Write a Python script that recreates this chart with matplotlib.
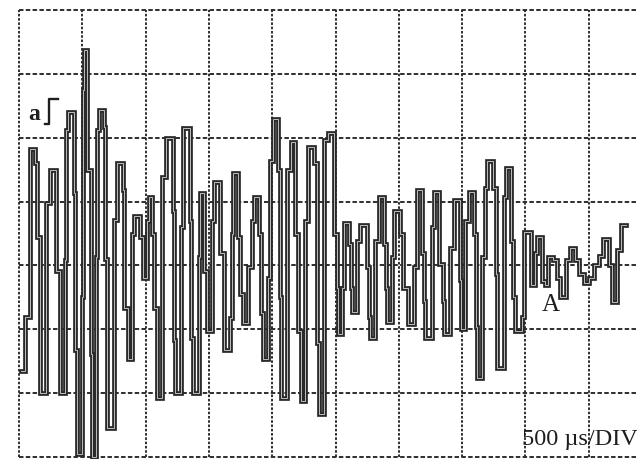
import numpy as np
import matplotlib.pyplot as plt
from matplotlib.lines import Line2D

# step start times (us) and held levels (divisions, 0 = centre line)
t_us = [16, 51, 83, 130, 146, 166, 217, 245, 292, 324,
        363, 375, 387, 435, 446, 458, 494, 506, 514, 541,
        565, 577, 612, 620, 632, 675, 683, 699, 747, 774,
        818, 833, 861, 893, 912, 952, 976, 1011, 1023, 1051,
        1070, 1090, 1130, 1161, 1213, 1225, 1236, 1276, 1296, 1347,
        1359, 1375, 1418, 1426, 1465, 1485, 1525, 1544,
        1588, 1616, 1663, 1679, 1687, 1726, 1746, 1766, 1809, 1837,
        1857, 1896, 1908, 1924, 1967, 1983, 2003, 2046, 2062, 2070,
        2117, 2145, 2184, 2204, 2224, 2263, 2279, 2331, 2350, 2366,
        2406, 2437,
        2492, 2508, 2516, 2548, 2564, 2571, 2607, 2619, 2627, 2666,
        2690, 2745, 2761, 2769, 2812, 2840, 2884, 2895, 2903, 2943,
        2959, 3010, 3034, 3069, 3117, 3144, 3184, 3196, 3207,
        3259, 3275, 3318, 3346, 3354, 3401, 3433, 3480, 3488, 3523,
        3551, 3591, 3610, 3618, 3654, 3677, 3693, 3741, 3768, 3776,
        3828, 3843, 3883, 3903, 3918, 3970, 3986,
        4041, 4076, 4092, 4128, 4151, 4175, 4219, 4250, 4270, 4321,
        4349, 4392, 4424, 4464, 4503, 4543, 4578, 4610, 4657, 4681,
        4724, 4752]
level = [-1.65, -0.8, 1.83, 1.6, 0.44, -2.0, 0.97, 1.49, -0.08, -2.0,
         0.08, 2.12, 2.4, 1.13, -1.33, -2.95, -0.5, 2.74, 3.37, 1.49,
         -1.38, -3.0, 0.13, 2.12, 2.43, 2.16, 0.1, -2.54, 0.71, 1.6,
         1.18, -0.66, -1.46, 0.5, 0.78, 0.44, -0.2, 0.7, 1.07, 0.5,
         -0.66, -2.08, 1.38, 2.0, 0.86, -1.17, -1.99, 0.6, 2.15, 0.7,
         -1.13, -1.99, 0.13, 1.13, -0.08, -1.02, 0.7, 1.3,
         0.19, -1.33, -0.82, 0.5, 1.44, 0.44, -0.44, -0.9, -0.03, 0.7,
         1.07, 0.5, -0.75, -1.46, -0.19, 1.64, 2.3, 1.49, -0.5, -2.07,
         1.49, 1.93, 0.5, -1.02, -2.12, 0.7, 1.85, 1.6, -1.22, -2.32,
         1.96, 2.07,
         0.5, -0.35, -1.07, -0.35, 0.39, 0.67, 0.34, -0.35, -0.73, 0.39,
         0.63, -0.03, -0.81, -1.14, 0.39, 1.07, 0.34, -0.35, -0.89, 0.13,
         0.86, 0.5, -0.35, -0.91, -0.03, 1.18, 0.19, -0.55, -1.13,
         0.6, 1.15, 0.03, -0.55, -1.07, 0.28, 1.02, -0.23, -0.99, 0.7,
         1.15, 0.5, -0.97, -1.76, 0.13, 1.22, 1.64, 1.22, -0.13, -1.6,
         1.07, 1.52, 0.39, -0.5, -1.02, -0.8, 0.52,
         -0.3, 0.2, 0.44, -0.24, -0.3, 0.13, 0.08, -0.2, -0.5, 0.08,
         0.28, 0.08, -0.13, -0.28, -0.19, 0.0, 0.15, 0.42, 0.0, -0.58,
         0.24, 0.63]
t_end = 4795

us_per_div = 500
x_divs = np.arange(0, 11) * us_per_div
y_divs = np.arange(-3, 5)

fig = plt.figure(figsize=(6.37, 4.59), dpi=100)
ax = fig.add_axes([19 / 637, 2 / 459, 633 / 637, 447 / 459])
ax.set_xlim(0, 10 * us_per_div)
ax.set_ylim(-3, 4)
ax.axis('off')

grid_col = '#2e2e2e'
for xv in x_divs:
    ax.axvline(xv, color=grid_col, lw=1.4, ls=(0, (1.3, 0.9)), clip_on=False, zorder=1)
for yv in y_divs:
    ax.axhline(yv, color=grid_col, lw=1.4, ls=(0, (2.3, 1.2)), clip_on=False, zorder=1)

tt = np.append(t_us, t_end)
vv = np.append(level, level[-1])
ax.step(tt, vv, where='post', color='#2a2a2a', lw=3.4, solid_joinstyle='miter',
        clip_on=False, zorder=3)
ax.step(tt, vv, where='post', color='white', lw=0.7, alpha=0.7,
        solid_joinstyle='miter', clip_on=False, zorder=4)

# channel marker "a" with its step sign
fig.text(28 / 637, 1 - 120 / 459, 'a', family='Liberation Serif', fontsize=17,
         fontweight='bold', color='#1e1e1e', va='baseline', ha='left')
fig.add_artist(Line2D(np.array([45, 49, 49, 58]) / 637,
                      1 - np.array([124, 124, 99, 99]) / 459,
                      color='#1e1e1e', lw=1.7, transform=fig.transFigure))

fig.text(551 / 637, 1 - 311 / 459, 'A', family='Liberation Serif', fontsize=18,
         color='#1e1e1e', va='baseline', ha='center')
fig.text(522 / 637, 1 - 445 / 459, '500 \u00b5s/DIV', family='Liberation Serif',
         fontsize=17.5, color='#1e1e1e', va='baseline', ha='left')

fig.savefig('out.png', dpi=100, facecolor='white')
